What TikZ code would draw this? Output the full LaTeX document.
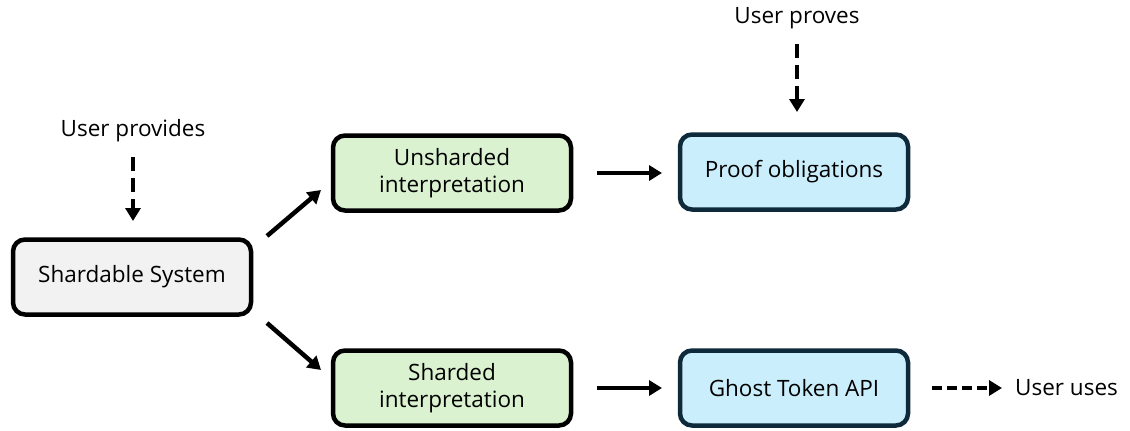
\documentclass[tikz,border=0pt]{standalone}
\usepackage{fontspec}
\setmainfont{Open Sans}
\usetikzlibrary{arrows.meta}
\definecolor{greyfill}{HTML}{F2F2F2}
\definecolor{greenfill}{HTML}{DAF2D0}
\definecolor{bluefill}{HTML}{CAEEFB}
\definecolor{navyline}{HTML}{0E2A3A}
\tikzset{
  box/.style={draw=black, line width=4.5pt, rounded corners=12pt, minimum width=238pt,
    minimum height=75pt, align=center, font=\fontsize{22.5}{27}\selectfont, inner sep=0pt},
  greybox/.style={box, fill=greyfill},
  greenbox/.style={box, fill=greenfill},
  bluebox/.style={box, fill=bluefill, draw=navyline, minimum width=228pt},
  note/.style={font=\fontsize{22.5}{27}\selectfont, inner sep=0pt},
  flow/.style={line width=4.5pt, -{Triangle[length=13pt,width=15pt]}},
  userflow/.style={flow, dash pattern=on 14pt off 7pt},
  useflowh/.style={flow, dash pattern=on 10pt off 5pt}
}
\begin{document}
\begin{tikzpicture}[x=1pt,y=-1pt]
\useasboundingbox (0,0) rectangle (1130,431);
\node[greybox]  (sys)   at (132,277) {Shardable System};
\node[greenbox] (unsh)  at (452,173) {Unsharded\\interpretation};
\node[greenbox] (sh)    at (452,388) {Sharded\\interpretation};
\node[bluebox]  (proof) at (794,172) {Proof obligations};
\node[bluebox]  (ghost) at (794,388) {Ghost Token API};

\node[note] (provides) at (133,131) {User provides};
\node[note] (proves)   at (797,18)  {User proves};
\node[note, anchor=west] (uses) at (1015,388) {User uses};

\coordinate (provA) at (133,157);
\coordinate (provB) at (133,221);
\coordinate (provesA) at (797,44);
\coordinate (provesB) at (797,112);
\coordinate (usesA) at (932,388);
\coordinate (usesB) at (1002,388);

\coordinate (d1a) at (267,236);
\coordinate (d1b) at (321,190);
\coordinate (d2a) at (267,323);
\coordinate (d2b) at (321,370);
\coordinate (h1a) at (597,173);
\coordinate (h1b) at (662,173);
\coordinate (h2a) at (597,388);
\coordinate (h2b) at (662,388);

\draw[userflow] (provA) -- (provB);
\draw[userflow] (provesA) -- (provesB);
\draw[useflowh] (usesA) -- (usesB);
\draw[flow] (d1a) -- (d1b);
\draw[flow] (d2a) -- (d2b);
\draw[flow] (h1a) -- (h1b);
\draw[flow] (h2a) -- (h2b);
\end{tikzpicture}
\end{document}
